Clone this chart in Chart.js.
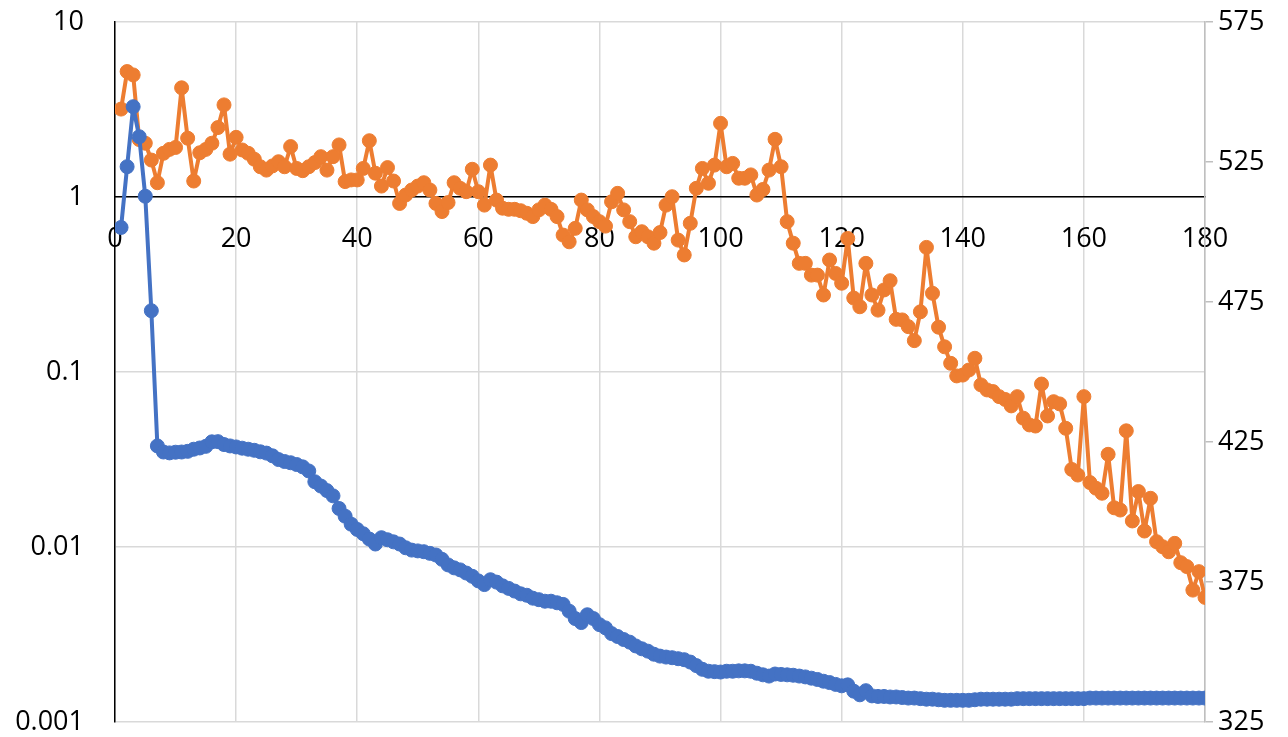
<!DOCTYPE html>
<html>
<head>
<meta charset="utf-8">
<script src="https://cdn.jsdelivr.net/npm/chart.js@4.4.0/dist/chart.umd.min.js"></script>
<style>
  body { margin: 0; background: #fff; }
  #wrap { width: 1288px; height: 737px; }
</style>
</head>
<body>
<div id="wrap"><canvas id="chart" width="1288" height="737"></canvas></div>
<script>
// left axis (log) series, x = 1..180
const blueValues = [
  0.67, 1.49, 3.28, 2.21, 1.01, 0.224, 0.0378, 0.0349, 0.0345, 0.0348,
  0.0349, 0.0352, 0.0362, 0.0368, 0.0376, 0.0399, 0.0400, 0.0385, 0.0378, 0.0373,
  0.0367, 0.0362, 0.0357, 0.0350, 0.0344, 0.0332, 0.0316, 0.0308, 0.0303, 0.0296,
  0.0287, 0.0272, 0.0236, 0.0223, 0.0210, 0.0196, 0.0166, 0.0150, 0.0135, 0.0126,
  0.0119, 0.0111, 0.0104, 0.0113, 0.0110, 0.0107, 0.0104, 0.0099, 0.0096, 0.0095,
  0.0094, 0.0092, 0.0090, 0.0085, 0.0079, 0.0076, 0.0074, 0.0071, 0.0068, 0.0064,
  0.0061, 0.0065, 0.0063, 0.0060, 0.0058, 0.0056, 0.0054, 0.0053, 0.0051, 0.0050,
  0.0049, 0.0049, 0.0048, 0.0047, 0.0043, 0.0039, 0.0037, 0.0041, 0.0039, 0.0036,
  0.00345, 0.0032, 0.00308, 0.00296, 0.00286, 0.00272, 0.00262, 0.00254, 0.00244, 0.00238,
  0.00235, 0.00233, 0.0023, 0.00227, 0.0022, 0.0021, 0.0020, 0.00195, 0.00194, 0.00193,
  0.00195, 0.00195, 0.00196, 0.00196, 0.00195, 0.0019, 0.00186, 0.00183, 0.00188, 0.00187,
  0.00186, 0.00185, 0.00183, 0.00181, 0.00178, 0.00175, 0.00171, 0.00168, 0.00164, 0.00161,
  0.00163, 0.0015, 0.00143, 0.00151, 0.00141, 0.0014, 0.0014, 0.00139, 0.00139, 0.00138,
  0.00137, 0.00137, 0.00136, 0.00135, 0.00135, 0.00134, 0.00133, 0.00133, 0.00133, 0.00133,
  0.00133, 0.00134, 0.00135, 0.00135, 0.00135, 0.00135, 0.00135, 0.00135, 0.00136, 0.00136,
  0.00136, 0.00136, 0.00136, 0.00136, 0.00136, 0.00136, 0.00136, 0.00136, 0.00136, 0.00136,
  0.00137, 0.00137, 0.00137, 0.00137, 0.00137, 0.00137, 0.00137, 0.00137, 0.00137, 0.00137,
  0.00137, 0.00137, 0.00137, 0.00137, 0.00137, 0.00137, 0.00137, 0.00137, 0.00137, 0.00137
];

// right axis series, x = 1..180
const orangeValues = [
  543.9, 557.3, 556.1, 533.0, 531.7, 525.7, 517.6, 528.1, 529.5, 530.2,
  551.5, 533.5, 518.2, 528.3, 529.5, 531.7, 537.3, 545.4, 527.8, 533.8,
  529.3, 528.1, 526.0, 523.3, 522.1, 523.6, 525.1, 523.3, 530.5, 522.7,
  521.9, 523.3, 524.8, 526.9, 522.1, 526.9, 531.1, 518.0, 518.6, 518.6,
  522.7, 532.6, 521.0, 516.4, 523.0, 518.2, 510.2, 513.2, 515.0, 516.4,
  517.6, 515.0, 510.2, 507.3, 510.5, 517.6, 515.6, 514.4, 522.4, 514.4,
  509.6, 523.9, 511.4, 508.5, 508.1, 508.1, 507.6, 506.7, 505.5, 507.9,
  509.6, 508.1, 505.5, 498.9, 496.5, 501.3, 511.4, 507.9, 505.5, 503.7,
  502.1, 510.8, 513.8, 507.9, 503.7, 498.3, 500.1, 498.3, 496.0, 499.8,
  509.6, 512.6, 497.1, 491.8, 503.1, 515.6, 522.7, 517.4, 523.9, 538.8,
  523.3, 524.5, 519.2, 519.2, 520.4, 513.2, 515.2, 522.1, 533.1, 523.3,
  503.7, 496.0, 488.8, 488.8, 484.6, 484.6, 477.5, 490.0, 485.2, 481.7,
  497.7, 476.4, 473.3, 488.8, 477.5, 472.1, 479.3, 482.6, 468.8, 468.6,
  466.2, 461.2, 471.5, 494.5, 478.1, 466.0, 459.0, 453.1, 448.6, 448.9,
  450.7, 454.9, 445.4, 443.6, 443.0, 441.2, 440.2, 437.9, 441.2, 433.5,
  431.1, 430.7, 445.7, 434.3, 439.4, 438.6, 429.9, 415.2, 413.2, 441.2,
  410.5, 408.5, 406.7, 420.6, 401.5, 400.7, 429.0, 396.8, 407.3, 393.2,
  404.9, 389.4, 387.6, 385.8, 388.8, 381.9, 380.5, 372.1, 378.7, 369.5
];

const leftTicks = [0.001, 0.01, 0.1, 1, 10];
const rightTicks = [325, 375, 425, 475, 525, 575];

const FONT = { family: '"Open Sans", "Liberation Sans", sans-serif', size: 27 };

function toPoints(values) {
  return values.map((v, i) => ({ x: i + 1, y: v }));
}

// y axes add tick padding to their top/bottom room; drop it so the plot
// spans the whole height given by layout.padding
function noVerticalPadding(s) {
  s.paddingTop = 0;
  s.paddingBottom = 0;
}

function series(values, axis, color) {
  return {
    data: toPoints(values),
    yAxisID: axis,
    borderColor: color,
    backgroundColor: color,
    pointBackgroundColor: color,
    pointBorderColor: color,
    borderWidth: 4,
    borderJoinStyle: 'round',
    borderCapStyle: 'round',
    pointRadius: 7,
    pointBorderWidth: 1,
    tension: 0
  };
}

const ctx = document.getElementById('chart').getContext('2d');
new Chart(ctx, {
  type: 'line',
  data: {
    datasets: [
      series(blueValues, 'y', '#4472C4'),
      series(orangeValues, 'y2', '#ED7D31')
    ]
  },
  options: {
    responsive: false,
    animation: false,
    layout: { padding: { top: 22, bottom: 15, left: 0, right: 0 } },
    plugins: { legend: { display: false }, tooltip: { enabled: false } },
    scales: {
      x: {
        type: 'linear',
        min: 0,
        max: 180,
        position: { y: 1 },
        afterFit: s => {
          s.paddingTop = 0; s.paddingBottom = 0;
          s.paddingLeft = 0; s.paddingRight = 0;
        },
        ticks: { stepSize: 20, color: '#000', font: FONT, padding: 26, maxRotation: 0, autoSkip: false },
        grid: { color: '#d9d9d9', lineWidth: 1.5, drawTicks: false },
        border: { color: '#000', width: 1.5 }
      },
      y: {
        type: 'logarithmic',
        position: 'left',
        min: 0.001,
        max: 10,
        afterBuildTicks: s => { s.ticks = leftTicks.map(v => ({ value: v })); },
        afterFit: s => { s.width = 115; noVerticalPadding(s); },
        ticks: { color: '#000', font: FONT, padding: 31, callback: v => String(v) },
        grid: { color: '#d9d9d9', lineWidth: 1.5, drawTicks: false },
        border: { color: '#000', width: 1.5 }
      },
      y2: {
        type: 'linear',
        position: 'right',
        min: 325,
        max: 575,
        afterBuildTicks: s => { s.ticks = rightTicks.map(v => ({ value: v })); },
        afterFit: s => { s.width = 83; noVerticalPadding(s); },
        ticks: { color: '#000', font: FONT, padding: 5 },
        grid: { drawOnChartArea: false, drawTicks: true, tickLength: 8, color: '#bfbfbf', lineWidth: 1.5 },
        border: { color: '#bfbfbf', width: 1.5 }
      }
    }
  }
});
</script>
</body>
</html>
